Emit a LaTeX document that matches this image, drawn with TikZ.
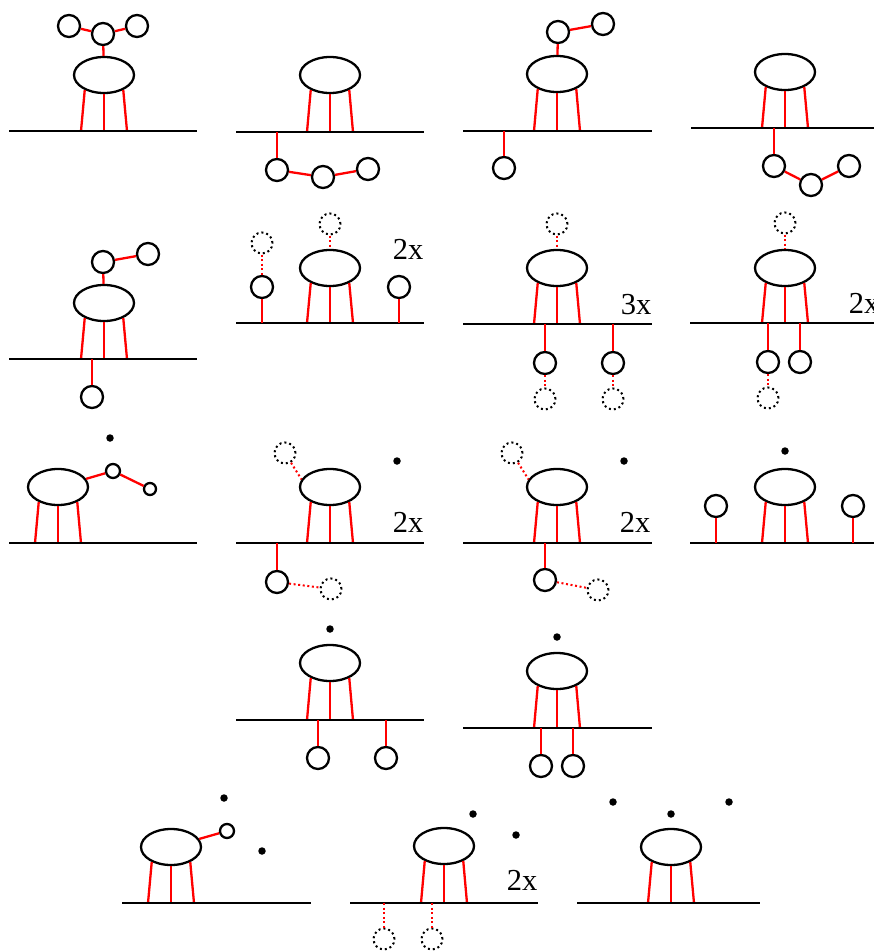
\documentclass[tikz,border=0pt]{standalone}
\usepackage{fontspec}
\setmainfont{Liberation Serif}
\usetikzlibrary{shapes.geometric}

\begin{document}
\begin{tikzpicture}[x=1pt, y=-1pt, line width=2.3pt,
  body/.style={draw, ellipse, minimum width=60pt, minimum height=36pt, inner sep=0pt},
  ball/.style={draw, circle, minimum size=22pt, inner sep=0pt},
  small/.style={draw, circle, minimum size=14pt, inner sep=0pt},
  ghost/.style={draw, circle, minimum size=21pt, inner sep=0pt, line width=2pt, dash pattern=on 2pt off 3pt},
  pt/.style={fill, circle, minimum size=7.5pt, inner sep=0pt},
  leg/.style={red},
  link/.style={red},
  dlink/.style={red, line width=2pt, dash pattern=on 2pt off 2.6pt},
  ground/.style={black},
  lbl/.style={anchor=base, inner sep=0pt, font=\fontsize{30.5}{32}\selectfont}]
  \useasboundingbox (0,0) rectangle (874,951);
  % 主体：椭圆、三条腿、底线
  \foreach \n/\cx/\cy/\by/\xa/\xb in {1/104/75/131/9/197, 2/330/75/132/236/424,
      3/557/74/131/463/652, 4/785/72/128/691/880, 5/104/303/359/9/197,
      6/330/268/323/236/424, 7/557/268/324/463/652, 8/785/268/323/690/880,
      9/58/487/543/9/197, 10/330/487/543/236/424, 11/557/487/543/463/652,
      12/785/487/543/690/880, 13/330/663/720/236/424, 14/557/671/728/463/652,
      15/171/847/903/122/311, 16/444/846/903/350/538, 17/671/847/903/577/760} {
    \node[body] (e\n) at (\cx,\cy) {};
    \coordinate (s\n) at (\xa,\by);
    \coordinate (t\n) at (\xb,\by);
    \foreach \k/\dx in {1/-23,2/0,3/23} \coordinate (f\n-\k) at (\cx+\dx,\by);
    \draw[leg] (e\n.218) -- (f\n-1);
    \draw[leg] (e\n.south) -- (f\n-2);
    \draw[leg] (e\n.322) -- (f\n-3);
    \draw[ground] (s\n) -- (t\n);
  }
  % 第一行
  \node[ball] (c1a) at (103,34) {};
  \node[ball] (c1b) at (69,26) {};
  \node[ball] (c1c) at (137,26) {};
  \draw[link] (e1) -- (c1a);
  \draw[link] (c1b) -- (c1a);
  \draw[link] (c1a) -- (c1c);
  \coordinate (h2) at (277,132);
  \node[ball] (c2a) at (277,170) {};
  \node[ball] (c2b) at (323,177) {};
  \node[ball] (c2c) at (368,169) {};
  \draw[link] (h2) -- (c2a);
  \draw[link] (c2a) -- (c2b);
  \draw[link] (c2b) -- (c2c);
  \node[ball] (c3a) at (558,32) {};
  \node[ball] (c3b) at (603,24) {};
  \draw[link] (e3) -- (c3a);
  \draw[link] (c3a) -- (c3b);
  \coordinate (h3) at (504,131);
  \node[ball] (c3c) at (504,168) {};
  \draw[link] (h3) -- (c3c);
  \coordinate (h4) at (774,128);
  \node[ball] (c4a) at (774,166) {};
  \node[ball] (c4b) at (811,185) {};
  \node[ball] (c4c) at (849,166) {};
  \draw[link] (h4) -- (c4a);
  \draw[link] (c4a) -- (c4b);
  \draw[link] (c4b) -- (c4c);
  % 第二行
  \node[ball] (c5a) at (103,262) {};
  \node[ball] (c5b) at (148,254) {};
  \draw[link] (e5) -- (c5a);
  \draw[link] (c5a) -- (c5b);
  \coordinate (h5) at (92,359);
  \node[ball] (c5c) at (92,397) {};
  \draw[link] (h5) -- (c5c);
  \node[ghost] (g6a) at (330,224) {};
  \draw[dlink] (g6a) -- (e6);
  \node[ball] (c6a) at (262,287) {};
  \node[ghost] (g6b) at (262,243) {};
  \draw[dlink] (g6b) -- (c6a);
  \coordinate (h6a) at (262,323);
  \draw[link] (c6a) -- (h6a);
  \node[ball] (c6b) at (399,287) {};
  \coordinate (h6b) at (399,323);
  \draw[link] (c6b) -- (h6b);
  \node[lbl] (m6) at (408,259) {2x};
  \node[ghost] (g7a) at (557,224) {};
  \draw[dlink] (g7a) -- (e7);
  \coordinate (h7a) at (545,324);
  \coordinate (h7b) at (613,324);
  \node[ball] (c7a) at (545,363) {};
  \node[ball] (c7b) at (613,363) {};
  \node[ghost] (g7b) at (545,399) {};
  \node[ghost] (g7c) at (613,399) {};
  \draw[link] (h7a) -- (c7a);
  \draw[link] (h7b) -- (c7b);
  \draw[dlink] (c7a) -- (g7b);
  \draw[dlink] (c7b) -- (g7c);
  \node[lbl] (m7) at (636,314) {3x};
  \node[ghost] (g8a) at (785,223) {};
  \draw[dlink] (g8a) -- (e8);
  \coordinate (h8a) at (768,323);
  \coordinate (h8b) at (800,323);
  \node[ball] (c8a) at (768,362) {};
  \node[ball] (c8b) at (800,362) {};
  \node[ghost] (g8b) at (768,398) {};
  \draw[link] (h8a) -- (c8a);
  \draw[link] (h8b) -- (c8b);
  \draw[dlink] (c8a) -- (g8b);
  \node[lbl] (m8) at (864,313) {2x};
  % 第三行
  \node[small] (c9a) at (113,471) {};
  \node[small, minimum size=12pt] (c9b) at (150,489) {};
  \node[pt] (d9) at (110,438) {};
  \draw[link] (e9) -- (c9a);
  \draw[link] (c9a) -- (c9b);
  \node[ghost] (g10a) at (285,453) {};
  \draw[dlink] (g10a) -- (e10.165);
  \node[pt] (d10) at (397,461) {};
  \node[lbl] (m10) at (408,532) {2x};
  \coordinate (h10) at (277,543);
  \node[ball] (c10a) at (277,582) {};
  \node[ghost] (g10b) at (331,589) {};
  \draw[link] (h10) -- (c10a);
  \draw[dlink] (c10a) -- (g10b);
  \node[ghost] (g11a) at (512,453) {};
  \draw[dlink] (g11a) -- (e11.165);
  \node[pt] (d11) at (624,461) {};
  \node[lbl] (m11) at (635,532) {2x};
  \coordinate (h11) at (545,543);
  \node[ball] (c11a) at (545,580) {};
  \node[ghost] (g11b) at (598,590) {};
  \draw[link] (h11) -- (c11a);
  \draw[dlink] (c11a) -- (g11b);
  \node[pt] (d12) at (785,451) {};
  \node[ball] (c12a) at (716,506) {};
  \node[ball] (c12b) at (853,506) {};
  \coordinate (h12a) at (716,543);
  \coordinate (h12b) at (853,543);
  \draw[link] (c12a) -- (h12a);
  \draw[link] (c12b) -- (h12b);
  % 第四行
  \node[pt] (d13) at (330,629) {};
  \coordinate (h13a) at (318,720);
  \coordinate (h13b) at (386,720);
  \node[ball] (c13a) at (318,758) {};
  \node[ball] (c13b) at (386,758) {};
  \draw[link] (h13a) -- (c13a);
  \draw[link] (h13b) -- (c13b);
  \node[pt] (d14) at (557,637) {};
  \coordinate (h14a) at (541,728);
  \coordinate (h14b) at (573,728);
  \node[ball] (c14a) at (541,766) {};
  \node[ball] (c14b) at (573,766) {};
  \draw[link] (h14a) -- (c14a);
  \draw[link] (h14b) -- (c14b);
  % 第五行
  \node[small] (c15a) at (227,831) {};
  \draw[link] (e15) -- (c15a);
  \node[pt] (d15a) at (224,798) {};
  \node[pt] (d15b) at (262,851) {};
  \node[pt] (d16a) at (473,814) {};
  \node[pt] (d16b) at (516,835) {};
  \node[lbl] (m16) at (522,890) {2x};
  \coordinate (h16a) at (384,903);
  \coordinate (h16b) at (432,903);
  \node[ghost] (g16a) at (384,939) {};
  \node[ghost] (g16b) at (432,939) {};
  \draw[dlink] (h16a) -- (g16a);
  \draw[dlink] (h16b) -- (g16b);
  \node[pt] (d17a) at (613,802) {};
  \node[pt] (d17b) at (671,814) {};
  \node[pt] (d17c) at (729,802) {};
\end{tikzpicture}
\end{document}
